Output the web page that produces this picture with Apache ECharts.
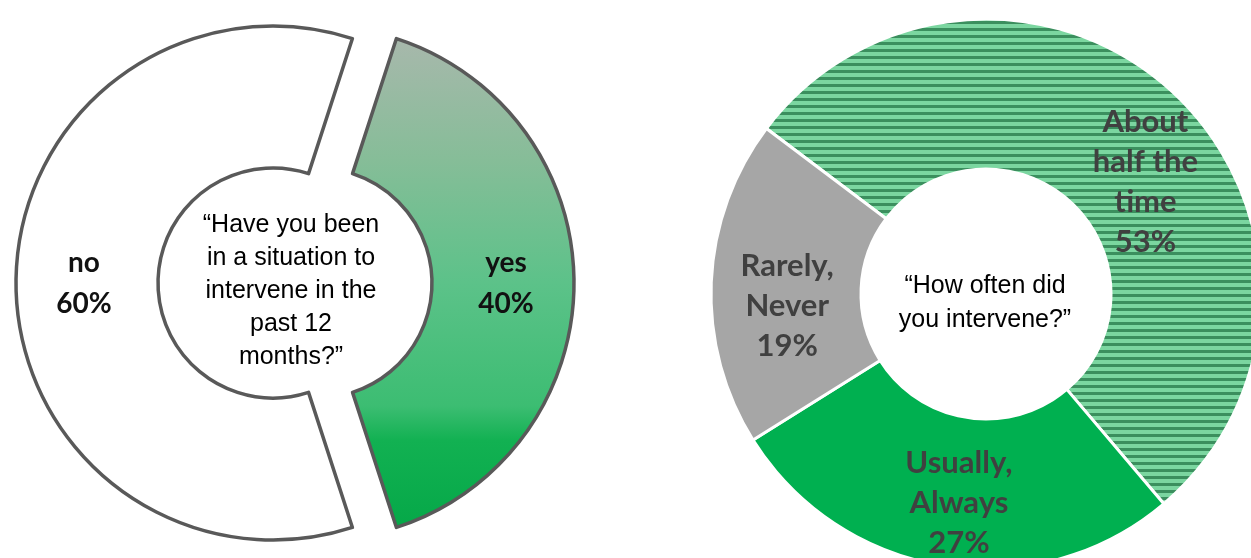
<!DOCTYPE html>
<html><head><meta charset="utf-8">
<script src="https://cdn.jsdelivr.net/npm/echarts@6/dist/echarts.min.js"></script>
<style>html,body{margin:0;padding:0;background:#fff}#c{width:1251px;height:558px}</style>
</head><body><div id="c"></div>
<script>
// ---- data ----
const leftCategories = ['yes', 'no'];
const leftValues = [40, 60];
const leftQuestion = '\u201cHave you been\nin a situation to\nintervene in the\npast 12\nmonths?\u201d';

const rightCategories = ['About\nhalf the\ntime', 'Usually,\nAlways', 'Rarely,\nNever'];
const rightValues = [53, 27, 19];
const rightQuestion = '\u201cHow often did\nyou intervene?\u201d';

// ---- styles ----
const rightLabelOffsets = [[20, 36], [4, 8], [4, 21]];

const stripe = document.createElement('canvas');
stripe.width = 8; stripe.height = 7;
const sg = stripe.getContext('2d');
sg.fillStyle = '#7bd6a0'; sg.fillRect(0, 0, 8, 7);
sg.fillStyle = '#3b8f5e'; sg.fillRect(0, 0, 8, 3);

const yesGradient = new echarts.graphic.LinearGradient(0, 0, 0, 1, [
  { offset: 0, color: '#a8b8ac' },
  { offset: 0.25, color: '#86bd98' },
  { offset: 0.5, color: '#5cc289' },
  { offset: 0.75, color: '#3cbd72' },
  { offset: 0.82, color: '#12b152' },
  { offset: 1, color: '#05a848' }
]);
const leftColors = [yesGradient, '#ffffff'];
const rightColors = [{ image: stripe, repeat: 'repeat' }, '#00b050', '#a6a6a6'];

const chart = echarts.init(document.getElementById('c'), null, { renderer: 'canvas' });
chart.setOption({
  animation: false,
  backgroundColor: '#ffffff',
  series: [
    {
      type: 'pie',
      center: [295, 283],
      radius: [115, 257],
      startAngle: 72,
      clockwise: true,
      selectedMode: 'multiple',
      selectedOffset: 22,
      emphasis: { disabled: true },
      select: { itemStyle: { borderColor: '#595959', borderWidth: 3.5 } },
      itemStyle: { borderColor: '#595959', borderWidth: 3.5 },
      label: {
        show: true, position: 'inside',
        formatter: p => p.name + '\n' + p.value + '%',
        fontFamily: 'Lato', fontWeight: 'bold', fontSize: 28, lineHeight: 41, color: '#111111'
      },
      labelLine: { show: false },
      data: leftCategories.map((n, i) => ({
        name: n, value: leftValues[i], selected: true,
        itemStyle: { color: leftColors[i] }
      }))
    },
    {
      type: 'pie',
      center: [986, 294],
      radius: [125, 275],
      startAngle: 143,
      clockwise: true,
      emphasis: { disabled: true },
      itemStyle: { borderColor: '#ffffff', borderWidth: 3 },
      label: {
        show: true, position: 'inside',
        formatter: p => p.name + '\n' + p.value + '%',
        fontFamily: 'Lato', fontWeight: 'bold', fontSize: 31, lineHeight: 40, color: '#404040'
      },
      labelLine: { show: false },
      data: rightCategories.map((n, i) => ({
        name: n, value: rightValues[i],
        itemStyle: { color: rightColors[i] },
        label: { offset: rightLabelOffsets[i] }
      }))
    }
  ],
  graphic: [
    {
      type: 'text', x: 291, y: 291, silent: true,
      style: {
        text: leftQuestion, align: 'center', verticalAlign: 'middle',
        fontFamily: 'Liberation Sans', fontSize: 25, lineHeight: 33, fill: '#000000'
      }
    },
    {
      type: 'text', x: 985, y: 303, silent: true,
      style: {
        text: rightQuestion, align: 'center', verticalAlign: 'middle',
        fontFamily: 'Liberation Sans', fontSize: 25, lineHeight: 34, fill: '#000000'
      }
    }
  ]
});
</script>
</body></html>
